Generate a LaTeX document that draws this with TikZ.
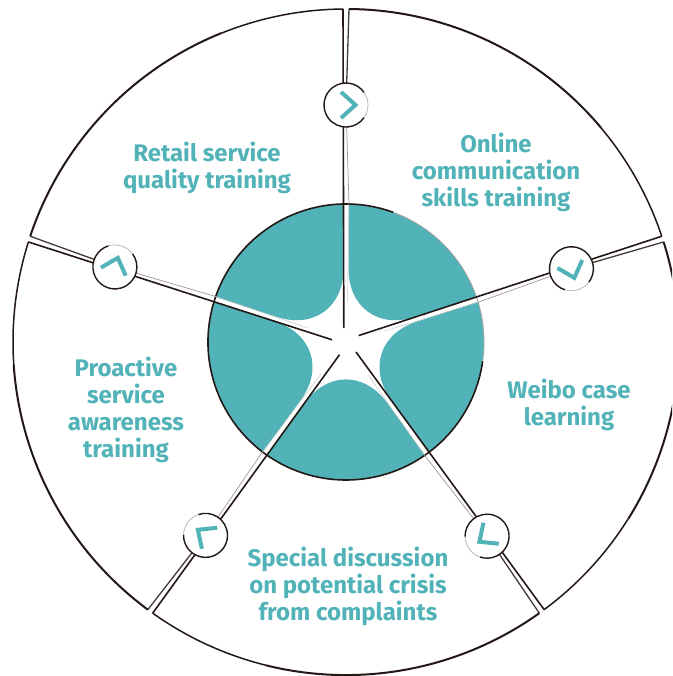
\documentclass[tikz,border=0pt]{standalone}
\usepackage{fontspec}
\setmainfont{Fira Sans}
\definecolor{teal1}{HTML}{51B2B8}
\definecolor{ink}{HTML}{231815}
\tikzset{
  spoke/.style={draw=ink,line width=1.6pt},
  spokethin/.style={draw=ink!85,line width=1.3pt},
  spokefaint/.style={draw=ink!45,line width=0.7pt},
  rim/.style={draw=ink,line width=2pt},
  btn/.style={circle,fill=white,minimum size=44pt,inner sep=0pt},
  chev/.style={draw=teal1,line width=4pt,miter limit=4},
  lab/.style={text=teal1,font=\fontsize{24}{27}\selectfont\bfseries,align=center,inner sep=0pt}
}
\begin{document}
\begin{tikzpicture}[x=1pt,y=1pt]
\useasboundingbox (0,0) rectangle (672,-676);
\clip (0,0) rectangle (672,-676);
\coordinate (c) at (346,-342);
% lobes of the disc
\begin{scope}
\clip (c) circle (138);
\foreach \a in {90,18,-54,-126,162}{
  \begin{scope}[shift={(c)},rotate=\a-90]
    \fill[teal1,rounded corners=70pt] (2.5,220) -- (2.5,3.4) -- ({2.5+220*cos(18)},{3.4+220*sin(18)}) -- (220,220) -- cycle;
  \end{scope}
}
\end{scope}
% inner rim
\draw[ink,line width=1.6pt] (c) ++(70:138) arc[start angle=70,end angle=352,radius=138];
\draw[ink!40,line width=0.8pt] (c) ++(-8:138) arc[start angle=-8,end angle=70,radius=138];
% spokes, outer arcs and buttons
\foreach \a/\n/\d in {90/t/237,18/r/237,-54/br/240,-126/bl/239,162/l/243}{
  \begin{scope}[shift={(c)},rotate=\a-90]
    \coordinate (\n o1) at (-3,333);
    \coordinate (\n o2) at (3,333);
    \coordinate (\n m2) at (3,138);
    \coordinate (\n c1) at (-2.2,14);
    \coordinate (\n c2) at (1.5,40);
    \node[btn] (\n b) at (0,\d) {};
    \draw[spoke] (\n o1) -- (\n c1);
    \draw[spokethin] (\n o2) -- (\n b);
    \draw[spokefaint] (\n b) -- (\n m2);
    \draw[ink!25,line width=0.5pt] (\n m2) -- (\n c2);
    \node[btn] at (0,\d) {};
    \draw[ink,line width=1.4pt] (0,\d) ++(35:22) arc[start angle=35,end angle=325,radius=22];
    \draw[ink!35,line width=0.7pt] (0,\d) ++(-35:22) arc[start angle=-35,end angle=35,radius=22];
    \begin{scope}[shift={(0,\d)}]
      \draw[chev] (-5,13) -- (9.5,0) -- (-5,-13);
    \end{scope}
    % outer arc of the sector clockwise of this spoke
    \draw[rim] (3,333) arc[start angle=89.5,end angle=40,radius=333];
    \draw[rim,line width=1.5pt] (0,0) ++(40:333) arc[start angle=40,end angle=18.5,radius=333];
  \end{scope}
}
\node[lab] (a) at (207,-168) {Retail service\\quality training};
\node[lab] (b) at (496,-172) {Online\\communication\\skills training};
\node[lab] (d) at (569,-405) {Weibo case\\learning};
\node[lab] (e) at (348,-586.5) {Special discussion\\on potential crisis\\from complaints};
\node[lab] (f) at (126,-410) {Proactive\\service\\awareness\\training};
\end{tikzpicture}
\end{document}
